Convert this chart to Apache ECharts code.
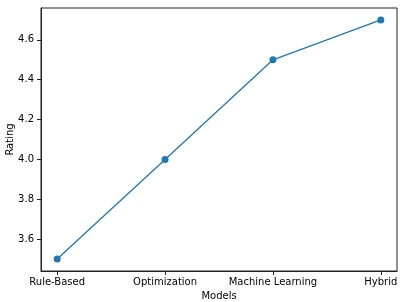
<!DOCTYPE html>
<html><head><meta charset="utf-8">
<script src="https://cdn.jsdelivr.net/npm/echarts@6/dist/echarts.min.js"></script>
<style>html,body{margin:0;padding:0;background:#fff}#c{width:402px;height:302px}</style>
</head><body><div id="c"></div>
<script>
const categories = ["Rule-Based", "Optimization", "Machine Learning", "Hybrid"];
const ratings = [3.5, 4.0, 4.5, 4.7];
const yTicks = [3.6, 3.8, 4.0, 4.2, 4.4, 4.6];
const xTicks = [0, 1, 2, 3];

const chart = echarts.init(document.getElementById('c'), null, {renderer: 'canvas'});
const font = 'DejaVu Sans';
chart.setOption({
  animation: false,
  backgroundColor: '#fff',
  grid: {left: 41, right: 5, top: 8, bottom: 31, show: true, borderColor: '#222', borderWidth: 1,
    backgroundColor: 'transparent', containLabel: false, outerBoundsMode: 'none'},
  xAxis: {
    type: 'value', min: -0.15, max: 3.15,
    name: 'Models', nameLocation: 'middle', nameGap: 20, nameMoveOverlap: false,
    nameTextStyle: {fontFamily: font, fontSize: 10, color: '#000'},
    splitLine: {show: false},
    axisLine: {show: true, onZero: false, lineStyle: {color: '#222', width: 1}},
    axisTick: {show: true, inside: false, length: 4, lineStyle: {color: '#222', width: 1}, customValues: xTicks},
    axisLabel: {fontFamily: font, fontSize: 10, color: '#000', margin: 6,
      customValues: xTicks, formatter: v => categories[Math.round(v)]}
  },
  yAxis: {
    type: 'value', min: 3.44, max: 4.76,
    name: 'Rating', nameLocation: 'middle', nameGap: 26, nameRotate: 90, nameMoveOverlap: false,
    nameTextStyle: {fontFamily: font, fontSize: 10, color: '#000'},
    splitLine: {show: false},
    axisLine: {show: true, onZero: false, lineStyle: {color: '#222', width: 1}},
    axisTick: {show: true, inside: false, length: 4, lineStyle: {color: '#222', width: 1}, customValues: yTicks},
    axisLabel: {fontFamily: font, fontSize: 10, color: '#000', margin: 7,
      customValues: yTicks, formatter: v => v.toFixed(1)}
  },
  series: [{
    type: 'line',
    data: ratings.map((r, i) => [i, r]),
    symbol: 'circle', symbolSize: 7,
    itemStyle: {color: '#1f77b4'},
    lineStyle: {color: '#1f77b4', width: 1.3}
  }]
});
</script></body></html>
